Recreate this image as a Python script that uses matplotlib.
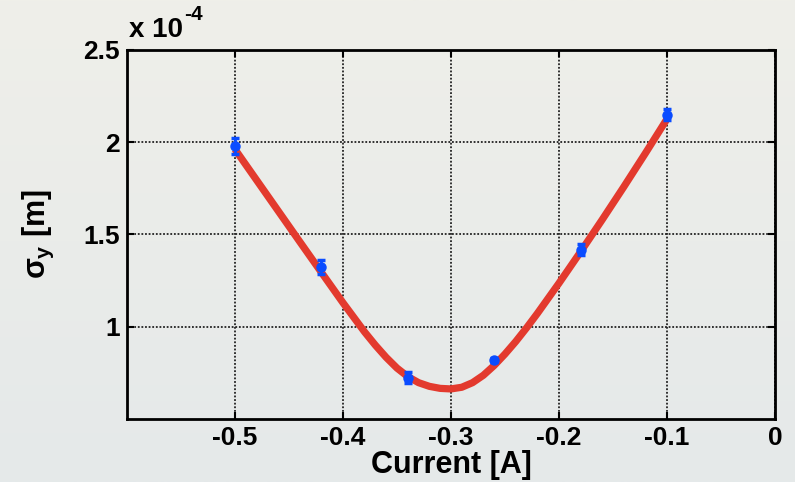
import numpy as np
import matplotlib
matplotlib.use("Agg")
import matplotlib.pyplot as plt
from matplotlib.ticker import FuncFormatter
from matplotlib.transforms import offset_copy

plt.rcParams['font.family'] = ['Liberation Sans', 'DejaVu Sans']
plt.rcParams['font.weight'] = 'bold'
plt.rcParams['mathtext.fontset'] = 'custom'
plt.rcParams['mathtext.rm'] = 'Liberation Sans:bold'
plt.rcParams['mathtext.it'] = 'Liberation Sans:bold'
plt.rcParams['mathtext.bf'] = 'Liberation Sans:bold'

# Measured beam size vs. quadrupole current
current = [-0.50, -0.42, -0.34, -0.26, -0.18, -0.10]
sigma_y = [1.980e-4, 1.324e-4, 0.724e-4, 0.818e-4, 1.418e-4, 2.149e-4]
sigma_err = [0.045e-4, 0.040e-4, 0.030e-4, 0.010e-4, 0.030e-4, 0.030e-4]

# Fitted curve samples
fit_current = [-0.50, -0.48, -0.46, -0.44, -0.42, -0.40, -0.38, -0.37, -0.36,
               -0.35, -0.34, -0.33, -0.32, -0.31, -0.30, -0.29, -0.28, -0.27,
               -0.26, -0.25, -0.24, -0.23, -0.22, -0.20, -0.18, -0.16, -0.14,
               -0.12, -0.10]
fit_sigma = [1.962e-4, 1.795e-4, 1.628e-4, 1.461e-4, 1.295e-4, 1.130e-4,
             0.972e-4, 0.900e-4, 0.834e-4, 0.776e-4, 0.730e-4, 0.697e-4,
             0.677e-4, 0.666e-4, 0.663e-4, 0.672e-4, 0.697e-4, 0.737e-4,
             0.790e-4, 0.852e-4, 0.920e-4, 0.994e-4, 1.072e-4, 1.236e-4,
             1.406e-4, 1.580e-4, 1.758e-4, 1.940e-4, 2.126e-4]

x_ticks = [-0.5, -0.4, -0.3, -0.2, -0.1, 0.0]
x_tick_labels = ['-0.5', '-0.4', '-0.3', '-0.2', '-0.1', '0']
y_ticks = [1.0e-4, 1.5e-4, 2.0e-4, 2.5e-4]

fig = plt.figure(figsize=(7.95, 4.82), dpi=100)

# soft vertical gradient backdrop
bg = fig.add_axes([0, 0, 1, 1], zorder=-10)
top = np.array([239, 239, 233]) / 255.0
bot = np.array([229, 233, 234]) / 255.0
t = np.linspace(0, 1, 256)[:, None]
grad = (top[None, :] * (1 - t) + bot[None, :] * t)[:, None, :]
bg.imshow(grad, aspect='auto', extent=[0, 1, 0, 1])
bg.axis('off')

ax = fig.add_axes([0.1597, 0.1307, 0.8151, 0.7656])
ax.patch.set_alpha(0)

ax.plot(fit_current, fit_sigma, color='#e33a2e', lw=5.2, solid_capstyle='butt',
        zorder=3)
ax.errorbar(current, sigma_y, yerr=sigma_err, fmt='o', color='#0a4cff',
            markersize=6.5, elinewidth=2, capsize=3.2, capthick=2.5, zorder=4)

ax.set_xlim(-0.6, 0.0)
ax.set_ylim(0.5e-4, 2.5e-4)
ax.set_xticks(x_ticks)
ax.set_xticklabels(x_tick_labels)
ax.set_yticks(y_ticks)
ax.yaxis.set_major_formatter(FuncFormatter(lambda v, p: f'{v / 1e-4:g}'))

ax.grid(True, color='#222222', linestyle=(0, (1, 1)), linewidth=1.3)
ax.set_axisbelow(True)
for s in ax.spines.values():
    s.set_linewidth(2)
ax.tick_params(direction='in', length=5, width=1.5, top=True, right=True,
               labelsize=19, pad=5)

ax.set_xlabel('Current [A]', fontsize=22, fontweight='bold', labelpad=0)
ax.set_ylabel(r'$\sigma_{y}$ [m]', fontsize=22, fontweight='bold', labelpad=20)

# scale factor shown above the y axis
ax.text(0.003, 1.035, 'x 10', transform=ax.transAxes, fontsize=20,
        fontweight='bold', ha='left', va='baseline')
exp_tr = offset_copy(ax.transAxes, fig=fig, x=40, y=12, units='points')
ax.text(0.003, 1.035, '-4', transform=exp_tr, fontsize=15,
        fontweight='bold', ha='left', va='baseline')

fig.savefig('out.png', dpi=100)
